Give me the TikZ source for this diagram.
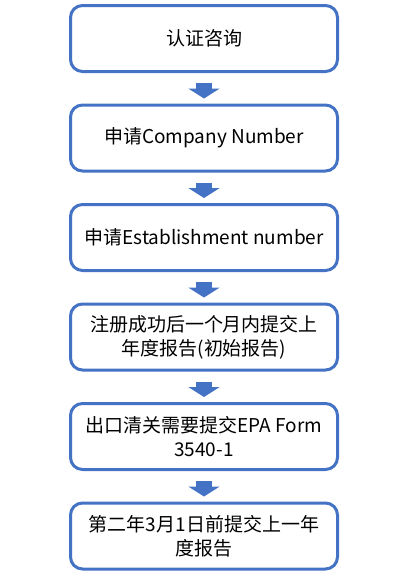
\documentclass[tikz,border=0pt]{standalone}
\usepackage{fontspec}
\setmainfont{Noto Sans CJK SC}
\usetikzlibrary{arrows.meta,positioning}
\definecolor{bBlue}{RGB}{68,114,196}

\begin{document}
\begin{tikzpicture}[x=1pt,y=1pt,font=\fontsize{19}{24}\selectfont,
  box/.style={draw=bBlue,line width=3pt,fill=white,rounded corners=12pt,align=center,
    minimum width=267pt,minimum height=66pt,inner sep=2pt},
  fat/.style={line width=16pt,bBlue,-{Triangle[length=10pt,width=31pt]},shorten <=10pt,shorten >=5pt}]
  \useasboundingbox (0,0) rectangle (404,-579);
  \node[box] (zx) at (204,-38.5) {认证咨询};
  \node[box,below=30.5pt of zx] (cn) {申请Company Number};
  \node[box,below=30.5pt of cn] (en) {申请Establishment number};
  \node[box,below=30.5pt of en] (nb) {注册成功后一个月内提交上\\年度报告(初始报告)};
  \node[box,below=30.5pt of nb] (ck) {出口清关需要提交EPA Form\\3540-1};
  \node[box,below=30.5pt of ck] (nd) {第二年3月1日前提交上一年\\度报告};
  \foreach \u/\w in {zx/cn,cn/en,en/nb,nb/ck,ck/nd} \draw[fat] (\u)--(\w);
\end{tikzpicture}
\end{document}
